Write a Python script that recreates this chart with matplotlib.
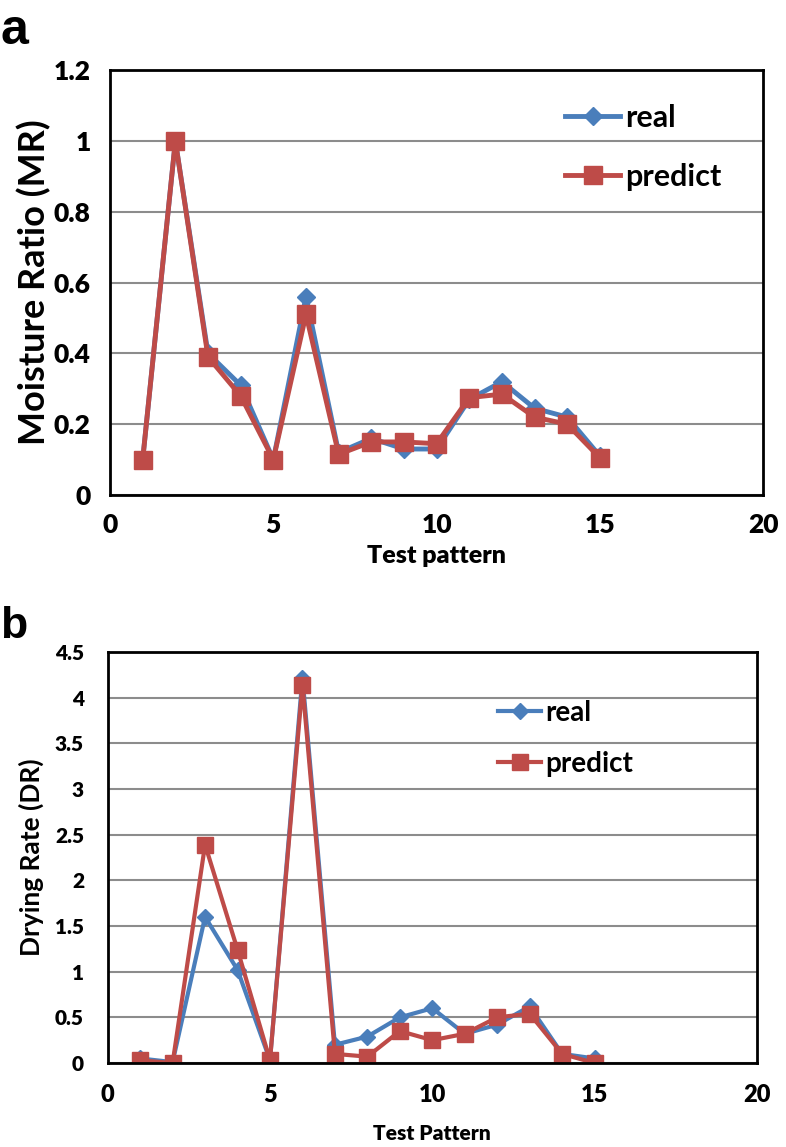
import numpy as np
import matplotlib.pyplot as plt

plt.rcParams['font.family'] = ['Lato', 'DejaVu Sans']

# test pattern index
pattern = [1, 2, 3, 4, 5, 6, 7, 8, 9, 10, 11, 12, 13, 14, 15]

# (a) moisture ratio
mr_real = [0.10, 1.00, 0.40, 0.31, 0.10, 0.56, 0.12, 0.16, 0.13, 0.13, 0.27, 0.32, 0.245, 0.22, 0.11]
mr_pred = [0.10, 1.00, 0.39, 0.28, 0.10, 0.51, 0.115, 0.15, 0.15, 0.145, 0.275, 0.285, 0.22, 0.20, 0.105]

# (b) drying rate
dr_real = [0.05, 0.01, 1.60, 1.02, 0.03, 4.22, 0.20, 0.29, 0.50, 0.60, 0.32, 0.42, 0.62, 0.10, 0.05]
dr_pred = [0.03, 0.00, 2.39, 1.24, 0.03, 4.14, 0.10, 0.07, 0.35, 0.25, 0.32, 0.50, 0.54, 0.10, 0.00]

x_ticks = [0, 5, 10, 15, 20]
mr_ticks = [0, 0.2, 0.4, 0.6, 0.8, 1.0, 1.2]
mr_labels = ['0', '0.2', '0.4', '0.6', '0.8', '1', '1.2']
dr_ticks = [0, 0.5, 1, 1.5, 2, 2.5, 3, 3.5, 4, 4.5]
dr_labels = ['0', '0.5', '1', '1.5', '2', '2.5', '3', '3.5', '4', '4.5']

blue = '#4a7ebb'
red = '#be4b48'

fig = plt.figure(figsize=(7.86, 11.47), dpi=100)

# ---- panel a ----
ax1 = fig.add_axes([0.140, 0.5684, 0.831, 0.3705])
ax1.plot(pattern, mr_real, color=blue, lw=3.5, marker='D', ms=9, label='real')
ax1.plot(pattern, mr_pred, color=red, lw=3.5, marker='s', ms=13, label='predict')
ax1.set_xlim(0, 20)
ax1.set_ylim(0, 1.2)
ax1.set_xticks(x_ticks)
ax1.set_xticklabels([str(t) for t in x_ticks], fontweight='heavy')
ax1.set_yticks(mr_ticks)
ax1.set_yticklabels(mr_labels, fontweight='heavy')
ax1.grid(axis='y', color='#8c8c8c', lw=1.5)
ax1.set_axisbelow(True)
ax1.tick_params(axis='y', length=0, labelsize=19, pad=14)
ax1.tick_params(axis='x', length=0, labelsize=19, pad=13)
for s in ax1.spines.values():
    s.set_linewidth(2)
ax1.set_xlabel('Test pattern', fontsize=18, fontweight='heavy', labelpad=6)
ax1.set_ylabel('Moisture Ratio (MR)', fontsize=26, fontweight='bold', labelpad=2)
ax1.legend(loc='upper left', bbox_to_anchor=(0.655, 0.985), frameon=False,
           labelspacing=1.0, handlelength=1.8, handletextpad=0.15,
           prop={'weight': 'bold', 'size': 22})
fig.text(0.0, 0.993, 'a', fontsize=36, fontweight='bold', va='top',
         family='Liberation Sans')

# ---- panel b ----
ax2 = fig.add_axes([0.137, 0.0732, 0.826, 0.3584])
ax2.plot(pattern, dr_real, color=blue, lw=3, marker='D', ms=8, label='real')
ax2.plot(pattern, dr_pred, color=red, lw=3, marker='s', ms=11, label='predict')
ax2.set_xlim(0, 20)
ax2.set_ylim(0, 4.5)
ax2.set_xticks(x_ticks)
ax2.set_xticklabels([str(t) for t in x_ticks], fontweight='heavy')
ax2.set_yticks(dr_ticks)
ax2.set_yticklabels(dr_labels, fontweight='heavy')
ax2.grid(axis='y', color='#8c8c8c', lw=1.5)
ax2.set_axisbelow(True)
ax2.tick_params(axis='y', length=0, labelsize=15, pad=17)
ax2.tick_params(axis='x', length=0, labelsize=17, pad=15)
for s in ax2.spines.values():
    s.set_linewidth(2)
ax2.set_xlabel('Test Pattern', fontsize=15, fontweight='heavy', labelpad=13)
ax2.set_ylabel('Drying Rate (DR)', fontsize=19, fontweight='bold', labelpad=8)
ax2.legend(loc='upper left', bbox_to_anchor=(0.563, 0.945), frameon=False,
           labelspacing=0.9, handlelength=1.55, handletextpad=0.15,
           prop={'weight': 'bold', 'size': 20})
fig.text(0.0, 0.472, 'b', fontsize=32, fontweight='bold', va='top',
         family='Liberation Sans')

fig.savefig('out.png', dpi=100)
